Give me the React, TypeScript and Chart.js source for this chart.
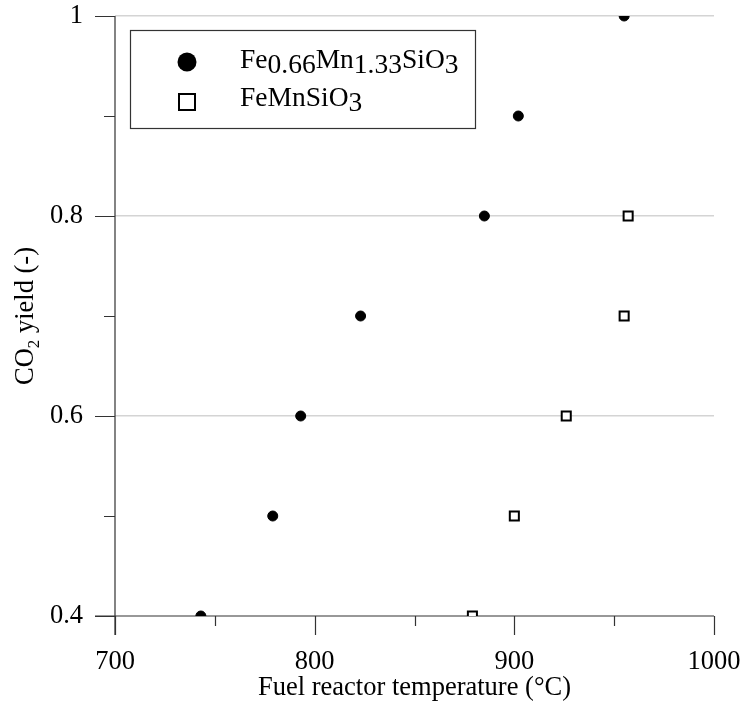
import React, { useEffect, useRef } from "react";
import { Chart, registerables } from "chart.js";

Chart.register(...registerables);

const circleTemps = [743, 779, 793, 823, 885, 902, 955];
const circleYields = [0.4, 0.5, 0.6, 0.7, 0.8, 0.9, 1.0];
const squareTemps = [879, 900, 926, 955, 957];
const squareYields = [0.4, 0.5, 0.6, 0.7, 0.8];

const xMajorTicks = [700, 800, 900, 1000];
const xMinorTicks = [750, 850, 950];
const yMajorTicks = [0.4, 0.6, 0.8, 1.0];
const yMinorTicks = [0.5, 0.7, 0.9];
const yGridValues = [0.6, 0.8, 1.0];

const FONT = "'Liberation Serif', 'Times New Roman', serif";
const AXIS_COLOR = "#333333";
const FS = 26.5;

function drawRuns(ctx: CanvasRenderingContext2D, runs: [string, number][], x: number, y: number, size: number, subSize: number, subDrop: number) {
  let cx = x;
  for (const [t, sub] of runs) {
    ctx.font = `${sub ? subSize : size}px ${FONT}`;
    ctx.fillText(t, cx, y + (sub ? subDrop : 0));
    cx += ctx.measureText(t).width;
  }
}

const decorPlugin = {
  id: "decor",
  beforeDatasetsDraw(chart: any) {
    const ctx: CanvasRenderingContext2D = chart.ctx;
    const xs = chart.scales.x;
    const ys = chart.scales.y;
    const area = chart.chartArea;
    ctx.save();
    ctx.strokeStyle = AXIS_COLOR;
    ctx.lineWidth = 1.2;
    ctx.beginPath();
    ctx.moveTo(area.left, area.top);
    ctx.lineTo(area.left, area.bottom + 19);
    ctx.moveTo(area.left - 20, area.bottom);
    ctx.lineTo(area.right, area.bottom);
    ctx.stroke();
    ctx.beginPath();
    for (const v of yMajorTicks) {
      const py = Math.round(ys.getPixelForValue(v)) + 0.5;
      ctx.moveTo(area.left - 20, py);
      ctx.lineTo(area.left, py);
    }
    for (const v of yMinorTicks) {
      const py = Math.round(ys.getPixelForValue(v)) + 0.5;
      ctx.moveTo(area.left - 11, py);
      ctx.lineTo(area.left, py);
    }
    for (const v of xMajorTicks) {
      const px = Math.round(xs.getPixelForValue(v)) + 0.5;
      ctx.moveTo(px, area.bottom);
      ctx.lineTo(px, area.bottom + 19);
    }
    for (const v of xMinorTicks) {
      const px = Math.round(xs.getPixelForValue(v)) + 0.5;
      ctx.moveTo(px, area.bottom);
      ctx.lineTo(px, area.bottom + 10);
    }
    ctx.stroke();
    ctx.restore();
  },
  afterDraw(chart: any) {
    const ctx: CanvasRenderingContext2D = chart.ctx;
    const area = chart.chartArea;
    ctx.save();
    ctx.fillStyle = "#000";
    ctx.font = `${FS}px ${FONT}`;
    ctx.textAlign = "center";
    ctx.textBaseline = "alphabetic";
    ctx.fillText("Fuel reactor temperature (°C)", (area.left + area.right) / 2, 695);

    ctx.save();
    ctx.translate(0, (area.top + area.bottom) / 2);
    ctx.rotate(-Math.PI / 2);
    ctx.textAlign = "left";
    const yRuns: [string, number][] = [["CO", 0], ["2", 1], [" yield (-)", 0]];
    let w = 0;
    for (const [t, sub] of yRuns) {
      ctx.font = `${sub ? 17 : FS}px ${FONT}`;
      w += ctx.measureText(t).width;
    }
    drawRuns(ctx, yRuns, -w / 2, 33, FS, 17, 6);
    ctx.restore();

    ctx.textAlign = "left";
    ctx.fillStyle = "#fff";
    ctx.fillRect(130, 30, 345, 98);
    ctx.strokeStyle = AXIS_COLOR;
    ctx.lineWidth = 1.2;
    ctx.strokeRect(130.5, 30.5, 345, 98);
    ctx.fillStyle = "#000";
    ctx.beginPath();
    ctx.arc(187, 62, 9.5, 0, Math.PI * 2);
    ctx.fill();
    ctx.lineWidth = 2;
    ctx.strokeStyle = "#000";
    ctx.strokeRect(179, 94, 16, 16);
    drawRuns(ctx, [["Fe", 0], ["0.66", 1], ["Mn", 0], ["1.33", 1], ["SiO", 0], ["3", 1]], 240, 68, 27.5, 27.5, 5);
    drawRuns(ctx, [["FeMnSiO", 0], ["3", 1]], 240, 106, 27.5, 27.5, 5);
    ctx.restore();
  },
};

export default function App() {
  const ref = useRef<HTMLCanvasElement>(null);
  useEffect(() => {
    document.body.style.margin = "0";
    const canvas = ref.current!;
    const chart = new Chart(canvas, {
      type: "scatter",
      data: {
        datasets: [
          {
            label: "Fe0.66Mn1.33SiO3",
            data: circleTemps.map((t, i) => ({ x: t, y: circleYields[i] })),
            pointStyle: "circle",
            pointRadius: 5,
            pointBackgroundColor: "#000",
            pointBorderColor: "#000",
            pointBorderWidth: 1,
          },
          {
            label: "FeMnSiO3",
            data: squareTemps.map((t, i) => ({ x: t, y: squareYields[i] })),
            pointStyle: "rect",
            pointRadius: 6.4,
            pointBackgroundColor: "#fff",
            pointBorderColor: "#000",
            pointBorderWidth: 2,
          },
        ],
      },
      options: {
        animation: false,
        responsive: false,
        maintainAspectRatio: false,
        devicePixelRatio: 1,
        layout: { padding: { left: 0, right: 31, top: 16, bottom: 0 } },
        plugins: { legend: { display: false }, tooltip: { enabled: false } },
        scales: {
          x: {
            type: "linear",
            min: 700,
            max: 1000,
            afterFit: (s: any) => {
              s.height = 93;
              s.paddingLeft = 0; s.paddingRight = 0; s.paddingTop = 0; s.paddingBottom = 0;
            },
            grid: { display: false, drawTicks: false },
            border: { display: false },
            ticks: {
              stepSize: 50,
              padding: 30,
              color: "#000",
              font: { family: FONT, size: FS },
              maxRotation: 0,
              callback: (v: any) => (xMajorTicks.includes(Math.round(Number(v))) ? String(Math.round(Number(v))) : ""),
            },
          },
          y: {
            type: "linear",
            min: 0.4,
            max: 1.0,
            afterFit: (s: any) => {
              s.width = 115;
              s.paddingLeft = 0; s.paddingRight = 0; s.paddingTop = 0; s.paddingBottom = 0;
            },
            grid: {
              drawTicks: false,
              lineWidth: 1.5,
              color: (c: any) => {
                const v = Math.round(c.tick.value * 10) / 10;
                return yGridValues.some((g) => Math.abs(g - v) < 1e-6) ? "#d4d4d4" : "rgba(0,0,0,0)";
              },
            },
            border: { display: false },
            ticks: {
              stepSize: 0.1,
              padding: 32,
              color: "#000",
              font: { family: FONT, size: FS },
              callback: (v: any) => {
                const r = Math.round(Number(v) * 10);
                if (r === 10) return "1";
                if (r % 2 === 0) return (r / 10).toFixed(1);
                return "";
              },
            },
          },
        },
      },
      plugins: [decorPlugin],
    });
    return () => chart.destroy();
  }, []);
  return (
    <div style={{ width: 745, height: 709 }}>
      <canvas ref={ref} width={745} height={709} style={{ display: "block", width: 745, height: 709 }} />
    </div>
  );
}
